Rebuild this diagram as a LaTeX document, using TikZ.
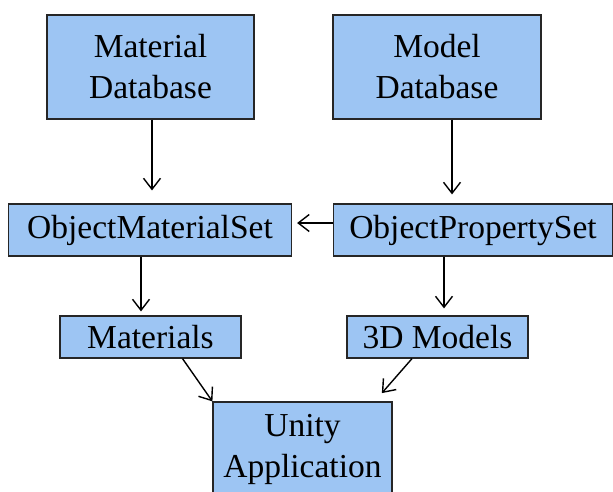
\documentclass[tikz,border=0pt]{standalone}
\usepackage{fontspec}
\setmainfont{Liberation Serif}
\usetikzlibrary{arrows.meta}
\definecolor{boxblue}{RGB}{157,197,243}
\begin{document}
\begin{tikzpicture}[x=1pt,y=-1pt,
		box/.style={draw=black!85,line width=1.2pt,fill=boxblue,inner sep=0pt,align=center,font=\fontsize{33.5}{41}\selectfont},
		arr/.style={-{Straight Barb[length=11pt,width=17pt]},line width=1.4pt}]
			\useasboundingbox(0,0)rectangle(613,492);
			\node[box,minimum width=207pt,minimum height=104pt](matdb)at(150.5,67){Material\\Database};
			\node[box,minimum width=208pt,minimum height=104pt](moddb)at(437,67){Model\\Database};
			\node[box,minimum width=283pt,minimum height=52pt](objmat)at(150,230){ObjectMaterialSet};
			\node[box,minimum width=279pt,minimum height=52pt](objprop)at(473,230){ObjectPropertySet};
			\node[box,minimum width=181pt,minimum height=42pt](mat)at(150.5,337){Materials};
			\node[box,minimum width=181pt,minimum height=42pt](mod)at(437.5,337){3D Models};
			\node[box,minimum width=179pt,minimum height=94pt](unity)at(302.5,449){Unity\\Application};
			\draw[arr,shorten >=13pt]([xshift=1.5pt]matdb.south)--([xshift=1.5pt]matdb.south|-objmat.north);
			\draw[arr,shorten >=9pt]([xshift=15pt]moddb.south)--([xshift=15pt]moddb.south|-objprop.north);
			\draw[arr,shorten >=5pt]([yshift=7pt]objprop.west)--([yshift=7pt]objmat.east);
			\draw[arr,shorten >=4pt]([xshift=-9pt]objmat.south)--([xshift=-9pt]objmat.south|-mat.north);
			\draw[arr,shorten >=7pt]([xshift=-29pt]objprop.south)--([xshift=-29pt]objprop.south|-mod.north);
			\draw[arr]([xshift=32pt]mat.south)--(unity.north west);
			\draw[arr,shorten >=11pt]([xshift=-25.5pt]mod.south)--([xshift=-18pt]unity.north east);
		\end{tikzpicture}
\end{document}
